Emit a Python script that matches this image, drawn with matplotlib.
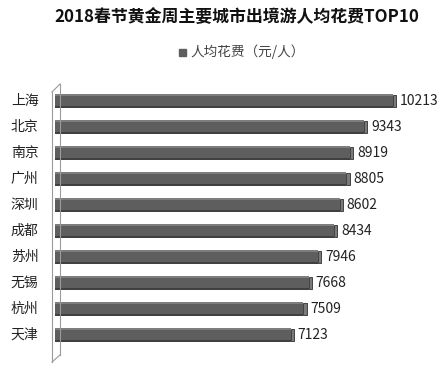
import matplotlib
matplotlib.use("Agg")
import matplotlib.pyplot as plt
from matplotlib.lines import Line2D
from matplotlib.patches import Rectangle

plt.rcParams['font.family'] = ['Noto Sans CJK SC', 'DejaVu Sans']

title = "2018春节黄金周主要城市出境游人均花费TOP10"
series_name = "人均花费（元/人）"
cities = ["上海", "北京", "南京", "广州", "深圳", "成都", "苏州", "无锡", "杭州", "天津"]
values = [10213, 9343, 8919, 8805, 8602, 8434, 7946, 7668, 7509, 7123]

W, H = 444, 368
fig = plt.figure(figsize=(W / 100, H / 100), dpi=100)
fig.patch.set_facecolor("white")

ax = fig.add_axes([55 / W, 1 - 362 / H, (420 - 55) / W, (362 - 88) / H])
ax.set_xlim(0, 11030)
ax.set_ylim(10.05, -0.51)
ax.axis("off")

ypos = list(range(len(cities)))
bh = 0.54
# main body
ax.barh(ypos, values, height=bh, color="#5e5e5e", edgecolor="none", zorder=2)
# top highlight line
ax.barh([y - bh / 2 + 0.035 for y in ypos], values, height=0.07, color="#7e7e7e", edgecolor="none", zorder=3)
# bottom shadow line
ax.barh([y + bh / 2 - 0.035 for y in ypos], values, height=0.07, color="#404040", edgecolor="none", zorder=3)
# end cap
cap = 100
ax.barh(ypos, [cap] * len(values), left=values, height=bh * 0.85, color="#7a7a7a",
        edgecolor="#2e2e2e", linewidth=0.6, zorder=3)

for y, v, c in zip(ypos, values, cities):
    ax.text(v + cap + 110, y, str(v), va="center", ha="left", fontsize=10, color="#222222")
    ax.text(-0.045, y, c, transform=ax.get_yaxis_transform(), va="center", ha="right",
            fontsize=10, color="#222222")

# left wall (pseudo 3D)
fx = lambda px: px / W
fy = lambda py: 1 - py / H
wall = [
    ((52, 92), (52, 362)),
    ((60, 84), (60, 355)),
    ((52, 92), (60, 84)),
    ((52, 362), (60, 355)),
]
for (x0, y0), (x1, y1) in wall:
    fig.add_artist(Line2D([fx(x0), fx(x1)], [fy(y0), fy(y1)], color="#9a9a9a", lw=0.8))

fig.text(0.5 + 15 / W, 1 - 17 / H, title, ha="center", va="center", fontsize=12.2, fontweight="bold", color="#111111")

# legend
fig.add_artist(Rectangle((fx(179), fy(56)), 7 / W, 7 / H, color="#5e5e5e", transform=fig.transFigure))
fig.text(fx(190), fy(52), series_name, ha="left", va="center", fontsize=9.8, color="#444444")

fig.savefig("out.png", dpi=100)
